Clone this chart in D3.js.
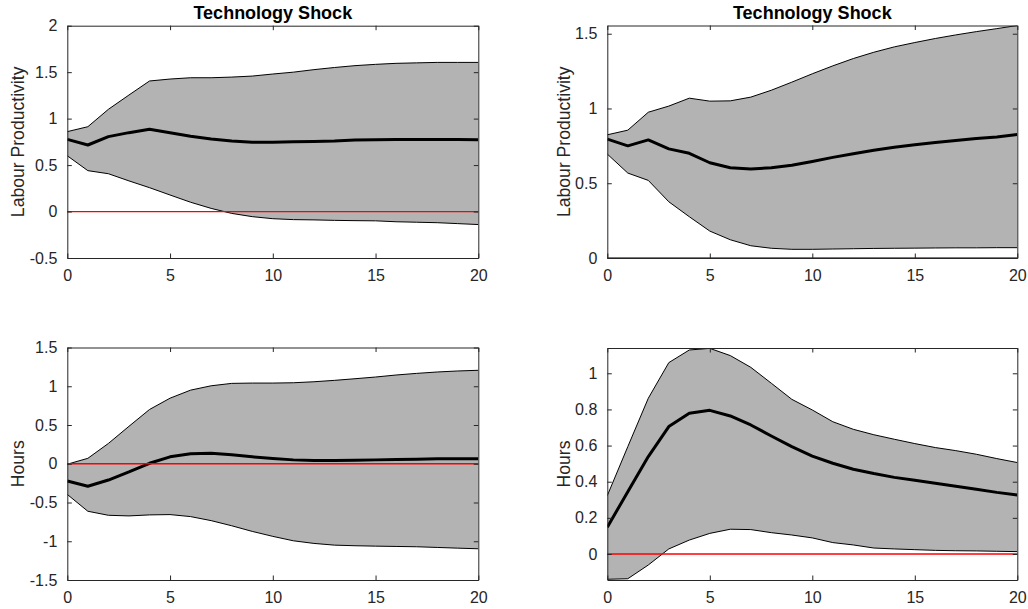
<!DOCTYPE html>
<html>
<head>
<meta charset="utf-8">
<script src="https://cdn.jsdelivr.net/npm/d3@7"></script>
<style>
  html, body { margin: 0; padding: 0; background: #fff; }
  svg { display: block; font-family: "Liberation Sans", Arial, Helvetica, sans-serif; }
</style>
</head>
<body>
<div id="viewportContainer"></div>
<script>
/* --- データ: horizon 0..20 --- */
const horizon = d3.range(0, 21);

/* top left: labour productivity */
const prodMedianL = [0.777, 0.716, 0.806, 0.849, 0.885, 0.849, 0.81, 0.78, 0.76, 0.745, 0.745,
  0.75, 0.755, 0.76, 0.77, 0.773, 0.775, 0.775, 0.775, 0.774, 0.772];
const prodUpperL = [0.86, 0.913, 1.10, 1.254, 1.405, 1.426, 1.44, 1.44, 1.447, 1.458, 1.48,
  1.50, 1.527, 1.55, 1.57, 1.584, 1.595, 1.60, 1.605, 1.605, 1.605];
const prodLowerL = [0.60, 0.44, 0.407, 0.33, 0.257, 0.178, 0.10, 0.034, -0.02, -0.055, -0.077,
  -0.087, -0.09, -0.095, -0.098, -0.10, -0.11, -0.115, -0.12, -0.13, -0.14];

/* top right: labour productivity */
const prodMedianR = [0.795, 0.75, 0.79, 0.73, 0.70, 0.637, 0.604, 0.595, 0.604, 0.62, 0.646,
  0.673, 0.697, 0.72, 0.74, 0.757, 0.773, 0.786, 0.80, 0.81, 0.826];
const prodUpperR = [0.824, 0.855, 0.975, 1.016, 1.069, 1.049, 1.051, 1.076, 1.122, 1.176, 1.232,
  1.285, 1.334, 1.376, 1.412, 1.441, 1.468, 1.492, 1.514, 1.534, 1.555];
const prodLowerR = [0.695, 0.568, 0.519, 0.376, 0.276, 0.18, 0.122, 0.082, 0.065, 0.058, 0.058,
  0.06, 0.062, 0.064, 0.065, 0.066, 0.067, 0.068, 0.068, 0.069, 0.069];

/* bottom left: hours */
const hoursMedianL = [-0.223, -0.29, -0.21, -0.106, 0.006, 0.089, 0.128, 0.136, 0.115, 0.089, 0.067,
  0.05, 0.041, 0.041, 0.045, 0.05, 0.054, 0.058, 0.063, 0.063, 0.063];
const hoursUpperL = [-0.006, 0.07, 0.262, 0.483, 0.70, 0.846, 0.95, 1.006, 1.037, 1.041, 1.041,
  1.045, 1.058, 1.076, 1.097, 1.119, 1.145, 1.166, 1.184, 1.197, 1.206];
const hoursLowerL = [-0.396, -0.613, -0.665, -0.673, -0.66, -0.656, -0.682, -0.734, -0.80, -0.873, -0.937,
  -0.994, -1.028, -1.05, -1.058, -1.063, -1.067, -1.071, -1.08, -1.089, -1.097];

/* bottom right: hours */
const hoursMedianR = [0.148, 0.345, 0.539, 0.705, 0.779, 0.795, 0.764, 0.714, 0.653, 0.594, 0.542,
  0.502, 0.469, 0.445, 0.424, 0.408, 0.391, 0.375, 0.358, 0.341, 0.327];
const hoursUpperR = [0.323, 0.594, 0.862, 1.059, 1.129, 1.138, 1.098, 1.033, 0.945, 0.856, 0.797,
  0.732, 0.69, 0.66, 0.635, 0.611, 0.589, 0.572, 0.552, 0.528, 0.506];
const hoursLowerR = [-0.14, -0.137, -0.061, 0.028, 0.077, 0.114, 0.137, 0.135, 0.118, 0.105, 0.089,
  0.063, 0.05, 0.033, 0.028, 0.024, 0.02, 0.018, 0.017, 0.015, 0.013];

/* --- 軸の目盛 --- */
const xTicks = [0, 5, 10, 15, 20];
const yTicksProdL = [-0.5, 0, 0.5, 1, 1.5, 2];
const yTicksProdR = [0, 0.5, 1, 1.5];
const yTicksHoursL = [-1.5, -1, -0.5, 0, 0.5, 1, 1.5];
const yTicksHoursR = [0, 0.2, 0.4, 0.6, 0.8, 1];

const titleText = "Technology Shock";

/* --- パネル定義 --- */
const panels = [
  { id: "p1", box: [67.3, 25.7, 478.3, 258], yDomain: [-0.5, 2], yTicks: yTicksProdL,
    median: prodMedianL, upper: prodUpperL, lower: prodLowerL,
    ylabel: "Labour Productivity", labelX: 24, title: titleText },
  { id: "p2", box: [607.3, 25.5, 1017.3, 258], yDomain: [0, 1.555], yTicks: yTicksProdR,
    median: prodMedianR, upper: prodUpperR, lower: prodLowerR,
    ylabel: "Labour Productivity", labelX: 570, title: titleText },
  { id: "p3", box: [67.3, 347.5, 478.3, 580], yDomain: [-1.5, 1.5], yTicks: yTicksHoursL,
    median: hoursMedianL, upper: hoursUpperL, lower: hoursLowerL,
    ylabel: "Hours", labelX: 24, title: null },
  { id: "p4", box: [607.3, 348, 1017.3, 580], yDomain: [-0.144, 1.14], yTicks: yTicksHoursR,
    median: hoursMedianR, upper: hoursUpperR, lower: hoursLowerR,
    ylabel: "Hours", labelX: 570, title: null }
];

const axisColor = "#262626";
const tickLen = 4.5;

let fmt = function (d) {
  return String(Math.round(d * 100) / 100);
};

let drawPanel = function (svg, p) {
  const [x0, y0, x1, y1] = p.box;
  const x = d3.scaleLinear().domain([0, 20]).range([x0, x1]);
  const y = d3.scaleLinear().domain(p.yDomain).range([y1, y0]);

  const g = svg.append("g").attr("id", p.id);

  g.append("clipPath")
    .attr("id", "clip-" + p.id)
    .append("rect")
    .attr("x", x0)
    .attr("y", y0)
    .attr("width", x1 - x0)
    .attr("height", y1 - y0);

  const plot = g.append("g").attr("clip-path", "url(#clip-" + p.id + ")");

  // 信頼区間
  const band = d3
    .area()
    .x((d, i) => x(horizon[i]))
    .y0((d, i) => y(p.lower[i]))
    .y1((d, i) => y(p.upper[i]));

  plot.append("path")
    .datum(horizon)
    .attr("d", band)
    .attr("fill", "#b3b3b3")
    .attr("stroke", "none");

  const line = (arr) =>
    d3.line()
      .x((d, i) => x(horizon[i]))
      .y((d, i) => y(arr[i]))(horizon);

  plot.append("path")
    .attr("d", line(p.upper))
    .attr("fill", "none")
    .attr("stroke", "#000")
    .attr("stroke-width", 1);

  plot.append("path")
    .attr("d", line(p.lower))
    .attr("fill", "none")
    .attr("stroke", "#000")
    .attr("stroke-width", 1);

  // ゼロ線
  g.append("line")
    .attr("x1", x(0))
    .attr("x2", x(20))
    .attr("y1", y(0))
    .attr("y2", y(0))
    .attr("stroke", "#ff0000")
    .attr("stroke-width", 1.3);

  plot.append("path")
    .attr("d", line(p.median))
    .attr("fill", "none")
    .attr("stroke", "#000")
    .attr("stroke-width", 3)
    .attr("stroke-linejoin", "round");

  // 軸 (四辺 + 内向き目盛)
  const bottomAxis = d3.axisBottom(x).tickValues(xTicks).tickSizeInner(-tickLen).tickSizeOuter(0).tickPadding(12).tickFormat(fmt);
  const topAxis = d3.axisTop(x).tickValues(xTicks).tickSizeInner(-tickLen).tickSizeOuter(0).tickFormat("");
  const leftAxis = d3.axisLeft(y).tickValues(p.yTicks).tickSizeInner(-tickLen).tickSizeOuter(0).tickPadding(10).tickFormat(fmt);
  const rightAxis = d3.axisRight(y).tickValues(p.yTicks).tickSizeInner(-tickLen).tickSizeOuter(0).tickFormat("");

  const axes = [
    [bottomAxis, "translate(0," + y1 + ")"],
    [topAxis, "translate(0," + y0 + ")"],
    [leftAxis, "translate(" + x0 + ",0)"],
    [rightAxis, "translate(" + x1 + ",0)"]
  ];
  axes.forEach(([ax, tr]) => {
    const a = g.append("g").attr("transform", tr).call(ax);
    a.selectAll(".domain").attr("stroke", axisColor).attr("stroke-width", 1);
    a.selectAll(".tick line").attr("stroke", axisColor).attr("stroke-width", 1);
    a.selectAll(".tick text")
      .attr("fill", axisColor)
      .attr("font-size", "16px")
      .attr("font-family", "'Liberation Sans', Arial, Helvetica, sans-serif");
  });

  // y軸ラベル
  g.append("text")
    .attr("transform", "translate(" + p.labelX + "," + (y0 + y1) / 2 + ") rotate(-90)")
    .attr("text-anchor", "middle")
    .attr("font-size", "17.6px")
    .attr("fill", axisColor)
    .text(p.ylabel);

  // タイトル
  if (p.title) {
    g.append("text")
      .attr("x", (x0 + x1) / 2)
      .attr("y", 19)
      .attr("text-anchor", "middle")
      .attr("font-size", "18px")
      .attr("font-weight", "bold")
      .attr("fill", "#000")
      .text(p.title);
  }
};

let initViewport = function () {
  console.log("initViewport");
  const svg = d3
    .select("#viewportContainer")
    .append("svg")
    .attr("width", 1028)
    .attr("height", 609)
    .attr("viewBox", "0 0 1028 609");

  panels.forEach((p) => drawPanel(svg, p));
};

initViewport();
</script>
</body>
</html>
